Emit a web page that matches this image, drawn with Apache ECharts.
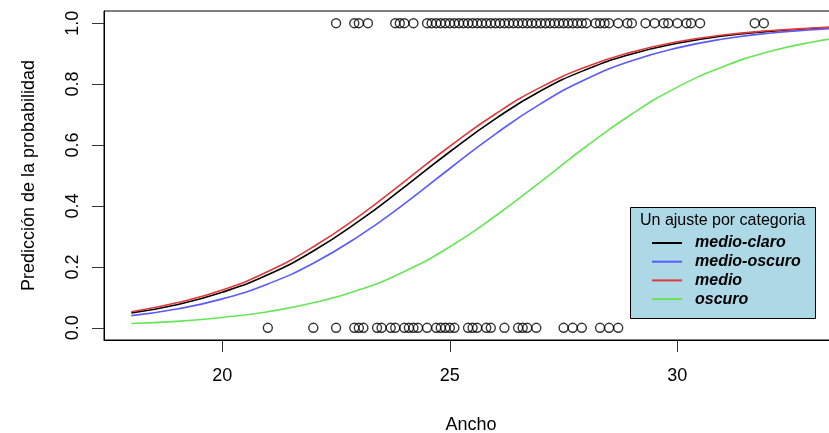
<!DOCTYPE html>
<html>
<head>
<meta charset="utf-8">
<script src="https://cdn.jsdelivr.net/npm/echarts@6/dist/echarts.min.js"></script>
<style>html,body{margin:0;padding:0;background:#fff}#c{width:829px;height:433px}</style>
</head>
<body>
<div id="c"></div>
<script>
// ---- data ----
const anchoCurva = [18,19,20,21,22,23,24,25,26,27,28,29,30,31,32,33,34];
const pMedioClaro  = [0.049,0.076,0.117,0.174,0.252,0.350,0.462,0.578,0.686,0.778,0.848,0.899,0.934,0.958,0.973,0.983,0.989];
const pMedioOscuro = [0.040,0.062,0.095,0.144,0.212,0.301,0.407,0.523,0.636,0.736,0.817,0.877,0.919,0.948,0.967,0.979,0.987];
const pMedio       = [0.053,0.082,0.124,0.185,0.266,0.366,0.480,0.596,0.702,0.790,0.857,0.905,0.939,0.961,0.975,0.984,0.990];
const pOscuro      = [0.014,0.021,0.034,0.053,0.082,0.124,0.185,0.266,0.367,0.480,0.596,0.702,0.790,0.857,0.906,0.939,0.961];

const anchoConSatelite = [22.5,22.9,23.0,23.2,23.8,23.9,24.0,24.2,24.5,24.6,24.7,24.8,24.9,25.0,25.1,25.2,25.3,25.4,25.5,25.6,25.7,25.8,25.9,26.0,26.1,26.2,26.3,26.4,26.5,26.6,26.7,26.8,26.9,27.0,27.1,27.2,27.3,27.4,27.5,27.6,27.7,27.8,27.9,28.0,28.2,28.3,28.4,28.5,28.7,28.9,29.0,29.3,29.5,29.7,29.8,30.0,30.2,30.3,30.5,31.7,31.9];
const anchoSinSatelite = [21.0,22.0,22.5,22.9,23.0,23.1,23.4,23.5,23.7,23.8,24.0,24.1,24.2,24.3,24.5,24.7,24.8,24.9,25.0,25.1,25.4,25.5,25.6,25.8,25.9,26.2,26.5,26.6,26.7,26.9,27.5,27.7,27.9,28.3,28.5,28.7];

const xTicks = [20,25,30];
const yTicks = [0,0.2,0.4,0.6,0.8,1.0];
const categorias = ['medio-claro','medio-oscuro','medio','oscuro'];
const curvas = [pMedioClaro, pMedioOscuro, pMedio, pOscuro];
const colores = ['#000000','#5a5aff','#e03a3a','#66e655'];
const tituloLeyenda = 'Un ajuste por categoria';

// ---- chart ----
const font = "'Liberation Sans', Arial, Helvetica, sans-serif";
const chart = echarts.init(document.getElementById('c'), null, {renderer:'canvas'});

const series = [
  {type:'scatter', name:'y1', data: anchoConSatelite.map(x => [x, 1]), symbol:'circle', symbolSize:9,
   itemStyle:{color:'rgba(0,0,0,0)', borderColor:'#000', borderWidth:1.4}, z:2, silent:true},
  {type:'scatter', name:'y0', data: anchoSinSatelite.map(x => [x, 0]), symbol:'circle', symbolSize:9,
   itemStyle:{color:'rgba(0,0,0,0)', borderColor:'#000', borderWidth:1.4}, z:2, silent:true}
];
[0,1,2,3].forEach(i => {
  series.push({
    type:'line', name:categorias[i], smooth:true, symbol:'none', showSymbol:false,
    data: anchoCurva.map((x, k) => [x, curvas[i][k]]),
    lineStyle:{color:colores[i], width:1.6}, itemStyle:{color:colores[i]}, z:3, silent:true
  });
});

chart.setOption({
  animation:false,
  backgroundColor:'#fff',
  textStyle:{fontFamily:font},
  grid:{left:104, right:-9, top:11, bottom:93, show:true, borderColor:'#000', borderWidth:1,
        backgroundColor:'transparent', containLabel:false, outerBoundsMode:'none'},
  xAxis:{
    type:'value', min:17.4, max:33.53,
    axisLine:{show:true, onZero:false, lineStyle:{color:'#000', width:1}},
    axisTick:{show:true, inside:false, customValues:xTicks, length:12, lineStyle:{color:'#333', width:1}},
    axisLabel:{customValues:xTicks, fontSize:18, color:'#000', margin:27, fontFamily:font},
    splitLine:{show:false},
    name:'Ancho', nameLocation:'middle', nameGap:76,
    nameTextStyle:{fontSize:18, color:'#000', fontFamily:font}
  },
  yAxis:{
    type:'value', min:-0.04, max:1.04,
    axisLine:{show:true, onZero:false, lineStyle:{color:'#000', width:1}},
    axisTick:{show:true, inside:false, customValues:yTicks, length:12, lineStyle:{color:'#333', width:1}},
    axisLabel:{customValues:yTicks, fontSize:18, color:'#000', margin:22, rotate:90, fontFamily:font,
               formatter: v => v.toFixed(1)},
    splitLine:{show:false},
    name:'Predicción de la probabilidad', nameLocation:'middle', nameGap:66,
    nameTextStyle:{fontSize:18, color:'#000', fontFamily:font}
  },
  legend:{
    data:categorias, orient:'vertical', left:647, top:230, icon:'rect',
    itemWidth:30, itemHeight:2, itemGap:2.7, padding:5,
    textStyle:{fontSize:16, fontStyle:'italic', fontWeight:'bold', color:'#000', fontFamily:font,
               lineHeight:16, padding:[0,0,0,8]},
    selectedMode:false, z:10
  },
  graphic:[
    {type:'rect', left:630, top:207, shape:{width:185, height:111},
     style:{fill:'#add8e6', stroke:'#000', lineWidth:1}, z:5, silent:true},
    {type:'text', left:640, top:213, style:{text:tituloLeyenda, font:'16px '+font, fill:'#000'},
     z:6, silent:true}
  ],
  series: series
});
</script>
</body>
</html>
